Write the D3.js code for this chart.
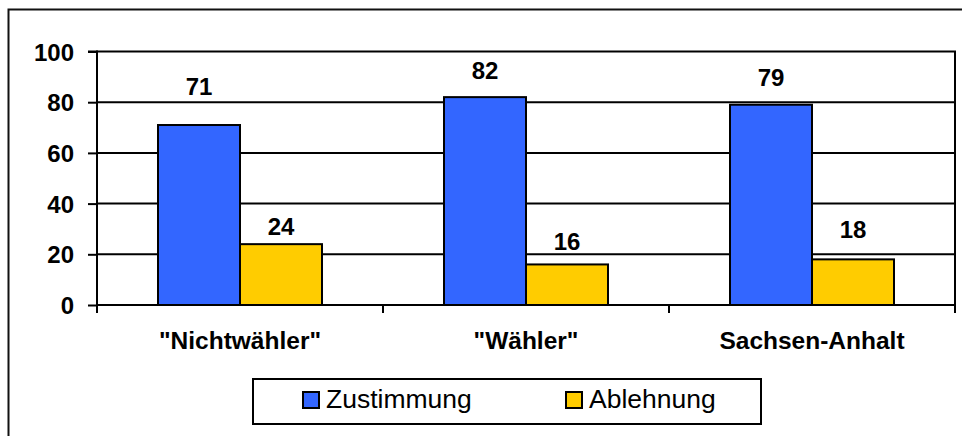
<!DOCTYPE html>
<html><head><meta charset="utf-8">
<script src="https://cdn.jsdelivr.net/npm/d3@7"></script>
<style>body{margin:0;background:#fff}svg{display:block;font-family:Arial,"Liberation Sans",sans-serif}</style>
</head><body><svg id="c" width="962" height="436"></svg>
<script>
const categories = ['"Nichtwähler"', '"Wähler"', 'Sachsen-Anhalt'];
const seriesNames = ['Zustimmung', 'Ablehnung'];
const zustimmung = [71, 82, 79];
const ablehnung = [24, 16, 18];
const yTicks = [0, 20, 40, 60, 80, 100];
const colors = ['#3366FF', '#FFCC00'];
// label gap above each bar (layout tweak to match reference placement)
const labelGap = [[30, 18, 19], [9, 14, 21]];

const series = [zustimmung, ablehnung];
const svg = d3.select('#c');
const L = 97, R = 955, T = 51.5, B = 305;

// outer border (cropped at right/bottom)
svg.append('rect').attr('x', 8.5).attr('y', 9.5).attr('width', 1000).attr('height', 500)
  .attr('fill', 'none').attr('stroke', '#111').attr('stroke-width', 2);

const x = d3.scaleBand().domain(categories).range([L, R]).paddingInner(0).paddingOuter(0);
const y = d3.scaleLinear().domain([0, 100]).range([B, T]);
const barW = x.bandwidth() * 82 / 286;

// plot area box
svg.append('rect').attr('x', L).attr('y', T).attr('width', R - L).attr('height', B - T)
  .attr('fill', '#fff').attr('stroke', '#000').attr('stroke-width', 2);

// gridlines
svg.append('g').selectAll('line').data(yTicks.filter(d => d > 0 && d < 100)).join('line')
  .attr('x1', L).attr('x2', R).attr('y1', d => y(d)).attr('y2', d => y(d))
  .attr('stroke', '#000').attr('stroke-width', 2);

// bars
series.forEach((vals, si) => {
  svg.append('g').selectAll('rect').data(vals).join('rect')
    .attr('x', (d, i) => x(categories[i]) + x.bandwidth() / 2 - barW + si * barW)
    .attr('y', d => y(d)).attr('width', barW).attr('height', d => y(0) - y(d))
    .attr('fill', colors[si]).attr('stroke', '#000').attr('stroke-width', 2);
  svg.append('g').selectAll('text').data(vals).join('text')
    .attr('x', (d, i) => x(categories[i]) + x.bandwidth() / 2 - barW / 2 + si * barW)
    .attr('y', (d, i) => y(d) - labelGap[si][i])
    .attr('text-anchor', 'middle').attr('font-weight', 'bold').attr('font-size', 24)
    .attr('fill', '#000').text(d => d);
});

// y axis
const yAxis = d3.axisLeft(y).tickValues(yTicks).tickSize(9).tickPadding(14);
const gy = svg.append('g').attr('transform', `translate(${L},0)`).call(yAxis);
gy.select('.domain').attr('stroke-width', 2).attr('d', `M-9,${T}H0V${B + 7}`);
gy.selectAll('.tick line').attr('stroke-width', 2);
gy.selectAll('.tick text').attr('font-size', 24).attr('font-weight', 'bold')
  .attr('font-family', 'Arial,"Liberation Sans",sans-serif').attr('fill', '#000').attr('dy', '0.36em');

// x axis
const gx = svg.append('g').attr('transform', `translate(0,${B})`);
gx.append('line').attr('x1', L).attr('x2', R).attr('stroke', '#000').attr('stroke-width', 2);
const bounds = categories.map(c => x(c)).concat([R]);
gx.selectAll('line.t').data(bounds).join('line').attr('class', 't')
  .attr('x1', d => d).attr('x2', d => d).attr('y1', 0).attr('y2', 8)
  .attr('stroke', '#000').attr('stroke-width', 2);
gx.selectAll('text').data(categories).join('text')
  .attr('x', d => x(d) + x.bandwidth() / 2).attr('y', 44)
  .attr('text-anchor', 'middle').attr('font-weight', 'bold').attr('font-size', 24.5)
  .attr('fill', '#000').text(d => d);

// legend
const lg = svg.append('g');
lg.append('rect').attr('x', 253).attr('y', 379).attr('width', 508).attr('height', 45)
  .attr('fill', '#fff').attr('stroke', '#000').attr('stroke-width', 2);
const legX = [303, 566];
seriesNames.forEach((n, i) => {
  lg.append('rect').attr('x', legX[i]).attr('y', 392).attr('width', 16).attr('height', 16)
    .attr('fill', colors[i]).attr('stroke', '#000').attr('stroke-width', 2);
  lg.append('text').attr('x', legX[i] + 23).attr('y', 408).attr('font-size', 26.5)
    .attr('fill', '#000').text(n);
});
</script></body></html>
